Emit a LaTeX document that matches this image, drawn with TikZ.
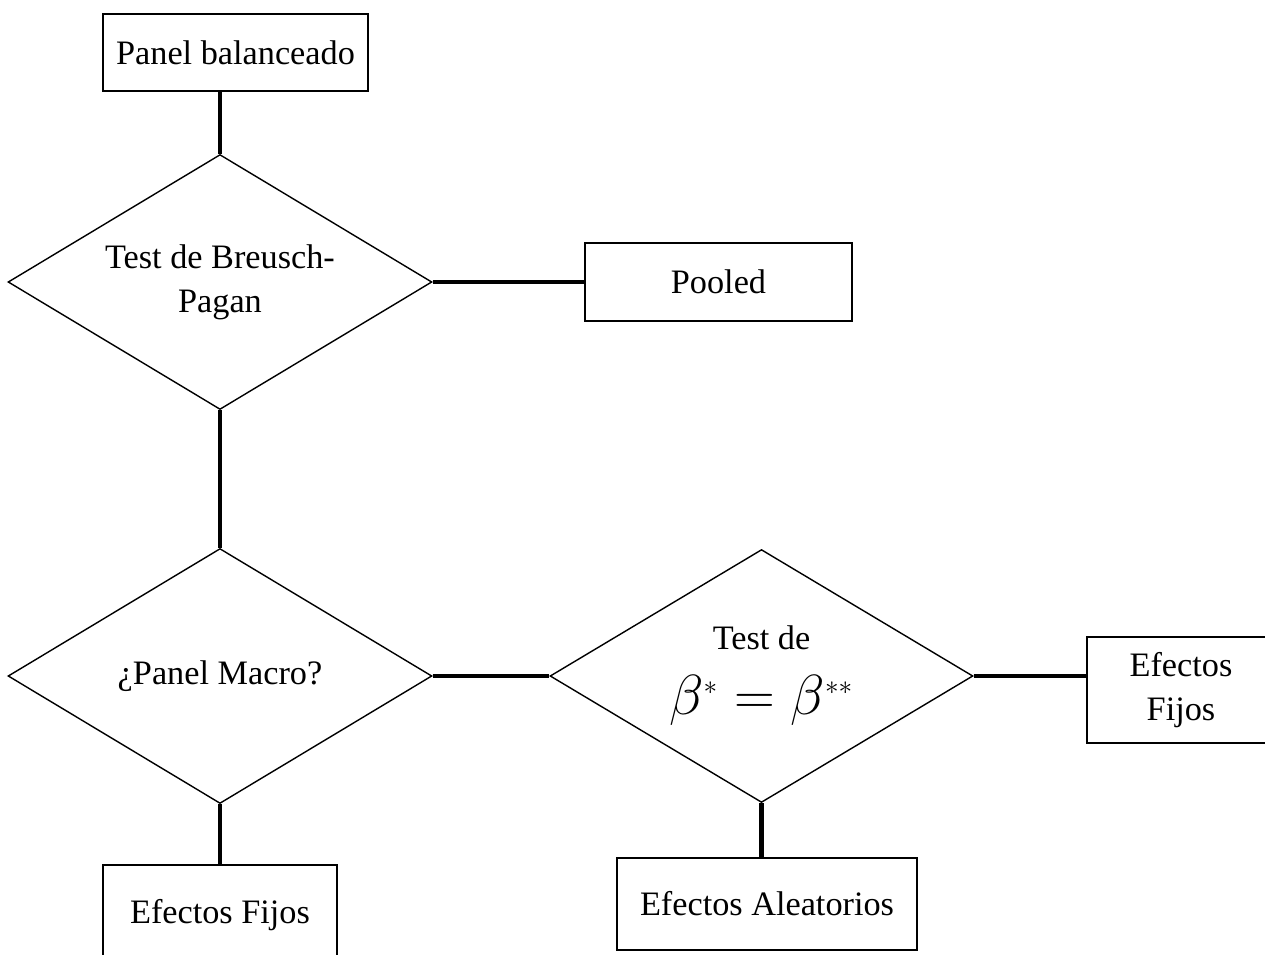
\documentclass[tikz,border=0pt]{standalone}
\usepackage{fontspec}
\setmainfont{Liberation Serif}
\usetikzlibrary{shapes.geometric,positioning}

\begin{document}
\begin{tikzpicture}[
    x=0.02cm, y=-0.02cm,
    every node/.style={font=\fontsize{19.5}{25}\selectfont, align=center, inner sep=0pt},
    box/.style={rectangle, draw, line width=0.8pt, fill=white},
    decision/.style={diamond, draw, line width=0.8pt, aspect=1.66, minimum width=8.48cm, minimum height=5.1cm},
    link/.style={line width=2.3pt}
]
    \useasboundingbox (0,0) rectangle (1265,954);
    \clip (0,0) rectangle (1265,954);
    % boxes
    \node[box, minimum width=5.3cm, minimum height=1.54cm] (bal) at (235.5,52.5) {Panel balanceado};
    \node[box, minimum width=5.34cm, minimum height=1.56cm] (pooled) at (718.5,282) {Pooled};
    \node[box, minimum width=3.76cm, minimum height=2.12cm] (fe1) at (1181,690) {Efectos\\Fijos};
    \node[box, minimum width=4.68cm, minimum height=2cm] (fe2) at (220,915) {Efectos Fijos};
    \node[box, minimum width=6cm, minimum height=1.84cm] (ale) at (767,904) {Efectos Aleatorios};
    % decisions
    \node[decision] (bp) at (220,282) {Test de Breusch-\\Pagan};
    \node[decision] (macro) at (220,676) {¿Panel Macro?};
    \node[decision, minimum width=8.46cm, minimum height=5.06cm] (beta) at (761.5,676) {Test de\\[12pt]\scalebox{1.55}{$\beta^{\scriptscriptstyle *}=\beta^{\scriptscriptstyle **}$}};
    % connectors
    \draw[link] (bp.north |- bal.south) -- (bp.north);
    \draw[link] (bp) -- (pooled);
    \draw[link] (bp) -- (macro);
    \draw[link] (macro) -- (beta);
    \draw[link] (beta.east) -- (beta.east -| fe1.west);
    \draw[link] (macro) -- (fe2);
    \draw[link] (beta.south) -- (beta.south |- ale.north);
\end{tikzpicture}
\end{document}
